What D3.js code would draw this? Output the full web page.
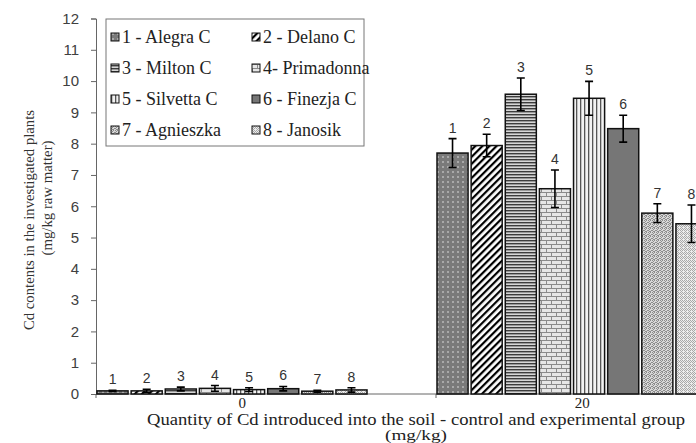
<!DOCTYPE html>
<html>
<head>
<meta charset="utf-8">
<script src="https://cdn.jsdelivr.net/npm/d3@7"></script>
<style>
  body { margin: 0; background: #fff; }
  svg { display: block; }
</style>
</head>
<body>
<svg class="chart" width="696" height="443"></svg>
<script>

//data
var cultivars = ["1 - Alegra C", "2 - Delano C", "3 - Milton C", "4- Primadonna",
                 "5 - Silvetta C", "6 - Finezja C", "7 - Agnieszka", "8 - Janosik"];
var barLabels = ["1", "2", "3", "4", "5", "6", "7", "8"];
var doses = ["0", "20"];
var control = [0.10, 0.10, 0.16, 0.18, 0.14, 0.17, 0.09, 0.13];
var controlErr = [0.02, 0.05, 0.06, 0.09, 0.06, 0.07, 0.03, 0.07];
var treated = [7.70, 7.94, 9.58, 6.56, 9.45, 8.48, 5.78, 5.44];
var treatedErr = [0.46, 0.36, 0.52, 0.60, 0.54, 0.43, 0.30, 0.60];
var yTicks = [0, 1, 2, 3, 4, 5, 6, 7, 8, 9, 10, 11, 12];

var groups = [
    {dose: doses[0], values: control, errors: controlErr},
    {dose: doses[1], values: treated, errors: treatedErr}
];

var svg = d3.select("svg.chart");
var serif = "'Liberation Serif', 'Times New Roman', serif";

//scales
var y = d3.scaleLinear().domain([0, 12]).range([394, 18.5]);
var x0 = d3.scaleBand().domain(doses).range([96, 776]);
var x1 = d3.scaleBand().domain(barLabels).range([1, 271]).paddingInner(0.09);

//fill patterns, one for every cultivar
var defs = svg.append("defs");
function pattern(id, w, h, bg){
    var p = defs.append("pattern").attr("id", id)
        .attr("patternUnits", "userSpaceOnUse")
        .attr("width", w).attr("height", h);
    p.append("rect").attr("width", w).attr("height", h).attr("fill", bg);
    return p;
}
var p;
p = pattern("p1", 5, 5, "#7a7a7a");
p.append("rect").attr("x", 1).attr("y", 1).attr("width", 2).attr("height", 2).attr("fill", "#a9a9a9");

p = pattern("p2", 5, 5, "#ffffff").attr("patternTransform", "rotate(45)");
p.append("rect").attr("width", 2.2).attr("height", 5).attr("fill", "#000");

p = pattern("p3", 3, 3, "#d6d6d6");
p.append("rect").attr("width", 3).attr("height", 1.4).attr("fill", "#3c3c3c");

p = pattern("p4", 10, 8, "#e6e6e6");
p.append("rect").attr("width", 10).attr("height", 1).attr("fill", "#8a8a8a");
p.append("rect").attr("y", 4).attr("width", 10).attr("height", 1).attr("fill", "#8a8a8a");
p.append("rect").attr("x", 0).attr("width", 1).attr("height", 4).attr("fill", "#8a8a8a");
p.append("rect").attr("x", 5).attr("y", 4).attr("width", 1).attr("height", 4).attr("fill", "#8a8a8a");

p = pattern("p5", 4, 4, "#f2f2f2");
p.append("rect").attr("width", 1.3).attr("height", 4).attr("fill", "#555");

p = pattern("p6", 4, 4, "#767676");

p = pattern("p7", 4, 4, "#d8d8d8");
[[0, 0], [2, 0], [1, 1], [3, 2], [0, 2], [2, 3], [1, 3]].forEach(function(c){
    p.append("rect").attr("x", c[0]).attr("y", c[1]).attr("width", 1).attr("height", 1).attr("fill", "#8c8c8c");
});

p = pattern("p8", 4, 4, "#ececec");
[[0, 0], [1, 1], [2, 0], [3, 1], [0, 2], [2, 2], [1, 3]].forEach(function(c){
    p.append("rect").attr("x", c[0]).attr("y", c[1]).attr("width", 1).attr("height", 1).attr("fill", "#a8a8a8");
});

function fillFor(i){ return "url(#p" + (i + 1) + ")"; }

//axes
var yAxis = svg.append("g")
    .attr("transform", "translate(96,0)")
    .call(d3.axisLeft(y).tickValues(yTicks).tickSize(5).tickPadding(12));
yAxis.select(".domain").attr("stroke", "#666");
yAxis.selectAll(".tick line").attr("stroke", "#666");
yAxis.selectAll(".tick text")
    .style("font-family", "'Liberation Sans', Arial, sans-serif")
    .style("font-size", "15px")
    .attr("fill", "#404040");

svg.append("line")
    .attr("x1", 96).attr("x2", 696)
    .attr("y1", y(0)).attr("y2", y(0))
    .attr("stroke", "#666");
svg.selectAll("line.xtick")
    .data(doses)
    .enter()
    .append("line")
        .attr("class", "xtick")
        .attr("x1", d => x0(d)).attr("x2", d => x0(d))
        .attr("y1", y(0)).attr("y2", y(0) + 4)
        .attr("stroke", "#666");

svg.selectAll("text.dose")
    .data(doses)
    .enter()
    .append("text")
        .attr("class", "dose")
        .attr("x", d => x0(d) + x0.bandwidth() * 0.43)
        .attr("y", 408)
        .attr("text-anchor", "middle")
        .style("font-family", serif)
        .style("font-size", "15px")
        .attr("fill", "#222")
        .text(d => d);

//bar groups
var g = svg.selectAll("g.group")
    .data(groups)
    .enter()
    .append("g")
        .attr("class", "group")
        .attr("transform", d => `translate(${x0(d.dose)},0)`);

var bars = g.selectAll("g.bar")
    .data(d => d.values.map((v, i) => ({label: barLabels[i], i: i, value: v, err: d.errors[i]})))
    .enter()
    .append("g")
        .attr("class", "bar");

bars.append("rect")
    .attr("x", d => x1(d.label))
    .attr("y", d => y(d.value))
    .attr("width", x1.bandwidth())
    .attr("height", d => y(0) - y(d.value))
    .attr("fill", d => fillFor(d.i))
    .attr("stroke", "#111")
    .attr("stroke-width", 1.5);

//error bars
bars.append("path")
    .attr("d", d => {
        var cx = x1(d.label) + x1.bandwidth() / 2;
        var top = y(d.value + d.err), bot = y(d.value - d.err);
        return `M${cx},${top}V${bot}M${cx - 4},${top}H${cx + 4}M${cx - 4},${bot}H${cx + 4}`;
    })
    .attr("stroke", "#000")
    .attr("stroke-width", 1.6)
    .attr("fill", "none");

bars.append("text")
    .attr("x", d => x1(d.label) + x1.bandwidth() / 2)
    .attr("y", d => y(d.value + d.err) - 6)
    .attr("text-anchor", "middle")
    .style("font-family", "'Liberation Sans', Arial, sans-serif")
    .style("font-size", "14px")
    .attr("fill", "#333")
    .text(d => d.label);

//axis titles (the original is stretched sideways, so fix the text lengths)
svg.append("text")
    .attr("transform", "translate(34,220) rotate(-90)")
    .attr("text-anchor", "middle")
    .attr("textLength", 220)
    .attr("lengthAdjust", "spacingAndGlyphs")
    .style("font-family", serif)
    .style("font-size", "15px")
    .attr("fill", "#333")
    .text("Cd contents in the investigated plants");
svg.append("text")
    .attr("transform", "translate(52,198) rotate(-90)")
    .attr("text-anchor", "middle")
    .attr("textLength", 115)
    .attr("lengthAdjust", "spacingAndGlyphs")
    .style("font-family", serif)
    .style("font-size", "15px")
    .attr("fill", "#333")
    .text("(mg/kg raw matter)");

svg.append("text")
    .attr("x", 416).attr("y", 425)
    .attr("text-anchor", "middle")
    .attr("textLength", 538)
    .attr("lengthAdjust", "spacingAndGlyphs")
    .style("font-family", serif)
    .style("font-size", "16px")
    .attr("fill", "#222")
    .text("Quantity of Cd introduced into the soil - control and experimental group");
svg.append("text")
    .attr("x", 416).attr("y", 440)
    .attr("text-anchor", "middle")
    .attr("textLength", 62)
    .attr("lengthAdjust", "spacingAndGlyphs")
    .style("font-family", serif)
    .style("font-size", "14px")
    .attr("fill", "#222")
    .text("(mg/kg)");

//legend
var legend = svg.append("g").attr("transform", "translate(106,19)");
legend.append("rect")
    .attr("width", 258).attr("height", 127)
    .attr("fill", "#fff")
    .attr("stroke", "#777");

var items = legend.selectAll("g.item")
    .data(cultivars)
    .enter()
    .append("g")
        .attr("class", "item")
        .attr("transform", (d, i) => `translate(${i % 2 ? 146 : 5},${18 + Math.floor(i / 2) * 31})`);
items.append("rect")
    .attr("x", 0).attr("y", -4)
    .attr("width", 8).attr("height", 8)
    .attr("fill", (d, i) => fillFor(i))
    .attr("stroke", "#111");
items.append("text")
    .attr("x", 11).attr("y", 6)
    .style("font-family", serif)
    .style("font-size", "18px")
    .attr("fill", "#222")
    .text(d => d);

</script>
</body>
</html>
